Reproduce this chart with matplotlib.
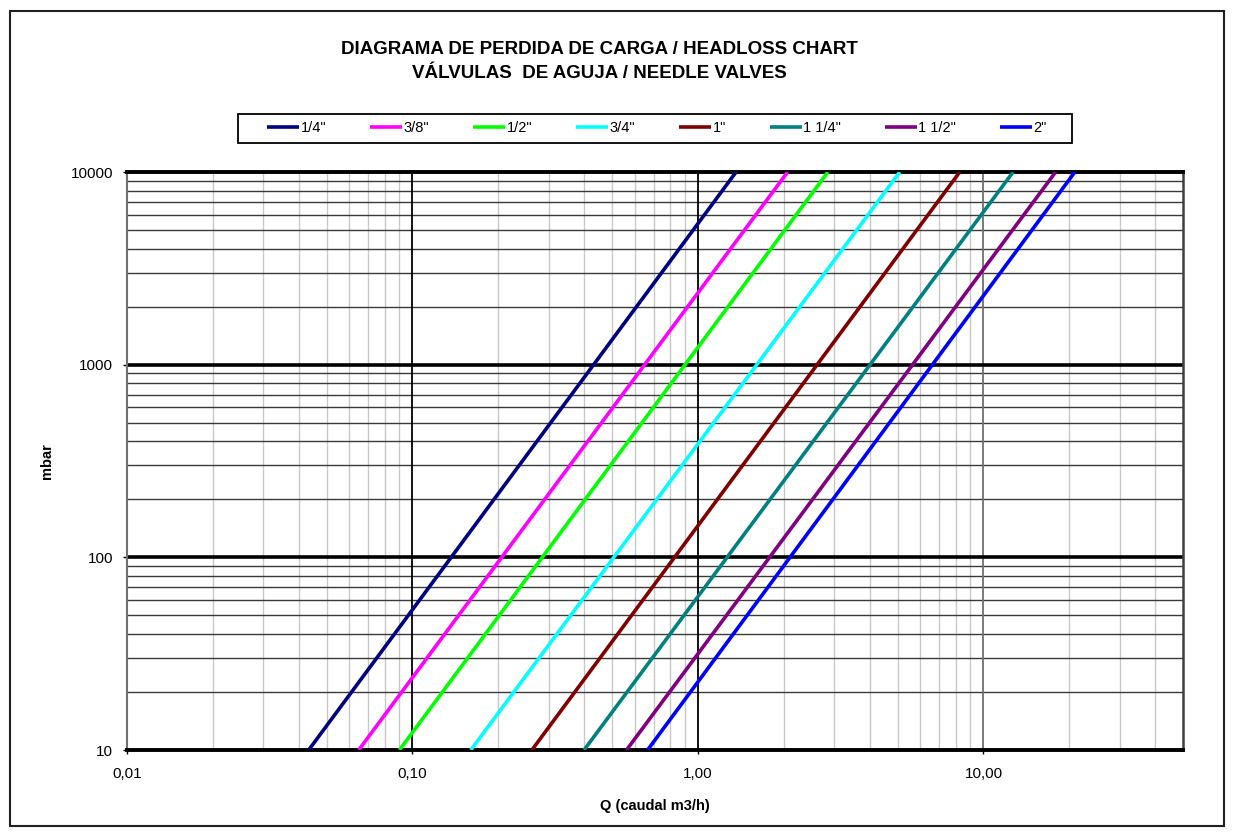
import numpy as np
import matplotlib
matplotlib.use("Agg")
import matplotlib.pyplot as plt
from matplotlib.patches import Rectangle

plt.rcParams['font.family'] = ['Liberation Sans', 'DejaVu Sans']

# ---- data ----
sizes = ['1/4"', '3/8"', '1/2"', '3/4"', '1"', '1 1/4"', '1 1/2"', '2"']
colors = ['#000080', '#FF00FF', '#00FF00', '#00FFFF', '#800000', '#008080', '#800080', '#0000FF']
pressure_mbar = [10, 10000]
q_at_10mbar = [0.0433, 0.0648, 0.0900, 0.160, 0.262, 0.399, 0.562, 0.666]
q_at_10000mbar = [1.36, 2.06, 2.85, 5.09, 8.26, 12.7, 17.9, 20.9]

x_ticks = [0.01, 0.1, 1, 10]
x_tick_labels = ['0,01', '0,10', '1,00', '10,00']
y_ticks = [10, 100, 1000, 10000]
y_tick_labels = ['10', '100', '1000', '10000']

W, H = 1233, 834
fig = plt.figure(figsize=(W / 100, H / 100), dpi=100)
ax = fig.add_axes([127 / W, 1 - 750 / H, (1183 - 127) / W, (750 - 172) / H])
ax.set_xscale('log')
ax.set_yscale('log')
ax.set_xlim(0.01, 50)
ax.set_ylim(10, 10000)

# grid: vertical minors
for dec in [0.01, 0.1, 1, 10]:
    for m in range(2, 10):
        v = dec * m
        if v < 50:
            ax.axvline(v, color='#c8c8c8', lw=1.0, zorder=1)
for v, c in [(0.1, '#000000'), (1, '#000000'), (10, '#707070')]:
    ax.axvline(v, color=c, lw=1.3, zorder=1.5)
# horizontal minors
for dec in [10, 100, 1000]:
    for m in range(2, 10):
        ax.axhline(dec * m, color='#3a3a3a', lw=1.0, zorder=1.2)
for v in [100, 1000]:
    ax.axhline(v, color='#000000', lw=2.6, zorder=1.6)

# series
for name, col, q0, q1 in zip(sizes, colors, q_at_10mbar, q_at_10000mbar):
    ax.plot([q0, q1], pressure_mbar, color=col, lw=2.6, label=name,
            solid_capstyle='butt', zorder=3)

ax.set_xticks(x_ticks)
ax.set_xticklabels(x_tick_labels)
ax.set_yticks(y_ticks)
ax.set_yticklabels(y_tick_labels)
ax.xaxis.set_minor_locator(matplotlib.ticker.NullLocator())
ax.yaxis.set_minor_locator(matplotlib.ticker.NullLocator())
ax.tick_params(axis='both', which='major', labelsize=11, length=3, width=1,
               color='#000000', direction='out')
ax.tick_params(axis='x', pad=9)
ax.tick_params(axis='y', pad=7)

for s in ['top', 'bottom']:
    ax.spines[s].set_linewidth(2.8)
    ax.spines[s].set_color('#000000')
ax.spines['left'].set_linewidth(1.5)
ax.spines['left'].set_color('#707070')
ax.spines['right'].set_linewidth(1.8)
ax.spines['right'].set_color('#404040')

ax.set_xlabel('Q (caudal m3/h)', fontsize=10.5, fontweight='bold', labelpad=13)
ax.set_ylabel('mbar', fontsize=10.5, fontweight='bold', labelpad=12)

fig.text(599 / W, 1 - 50 / H, 'DIAGRAMA DE PERDIDA DE CARGA / HEADLOSS CHART',
         ha='center', va='center', fontsize=13.5, fontweight='bold')
fig.text(599 / W, 1 - 73 / H, 'VÁLVULAS  DE AGUJA / NEEDLE VALVES',
         ha='center', va='center', fontsize=13.5, fontweight='bold')

leg = fig.legend(loc='center', bbox_to_anchor=(657 / W, 1 - 128.5 / H), ncol=8,
                 fontsize=10.5, frameon=False, handlelength=2.2,
                 handletextpad=0.1, columnspacing=3.0, borderpad=0.45)
fig.patches.append(Rectangle((238 / W, 1 - 143 / H), (1072 - 238) / W, (143 - 114) / H,
                             transform=fig.transFigure, fill=False,
                             edgecolor='#000000', lw=1.3))

fig.patches.append(Rectangle((10 / W, 1 - 826 / H), (1224 - 10) / W, (826 - 11) / H,
                             transform=fig.transFigure, fill=False,
                             edgecolor='#202020', lw=1.5))

fig.savefig('out.png', dpi=100)
